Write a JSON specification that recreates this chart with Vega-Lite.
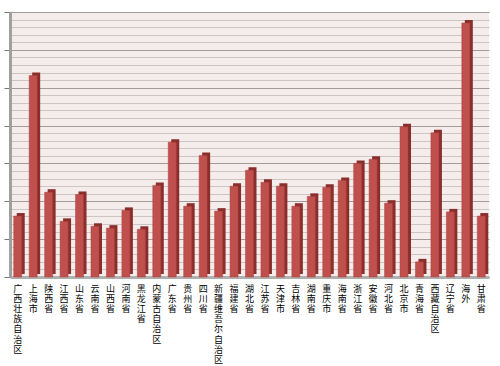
{
  "$schema": "https://vega.github.io/schema/vega-lite/v6.json",
  "autosize": "none",
  "width": 479,
  "height": 265,
  "padding": {"left": 10, "top": 12, "right": 11, "bottom": 89},
  "background": "#ffffff",
  "config": {
    "font": "Noto Sans CJK SC",
    "view": {"fill": "#f5ecec", "stroke": null}
  },
  "data": {
    "values": [
      {"name": "广西壮族自治区", "value": 16.1},
      {"name": "上海市", "value": 53.2},
      {"name": "陕西省", "value": 22.4},
      {"name": "江西省", "value": 14.7},
      {"name": "山东省", "value": 21.8},
      {"name": "云南省", "value": 13.4},
      {"name": "山西省", "value": 12.9},
      {"name": "河南省", "value": 17.6},
      {"name": "黑龙江省", "value": 12.6},
      {"name": "内蒙古自治区", "value": 24.2},
      {"name": "广东省", "value": 35.6},
      {"name": "贵州省", "value": 18.7},
      {"name": "四川省", "value": 32.1},
      {"name": "新疆维吾尔自治区", "value": 17.4},
      {"name": "福建省", "value": 24.0},
      {"name": "湖北省", "value": 28.2},
      {"name": "江苏省", "value": 25.0},
      {"name": "天津市", "value": 24.0},
      {"name": "吉林省", "value": 18.7},
      {"name": "湖南省", "value": 21.3},
      {"name": "重庆市", "value": 23.7},
      {"name": "海南省", "value": 25.5},
      {"name": "浙江省", "value": 30.0},
      {"name": "安徽省", "value": 31.1},
      {"name": "河北省", "value": 19.5},
      {"name": "北京市", "value": 39.7},
      {"name": "青海省", "value": 4.0},
      {"name": "西藏自治区", "value": 38.1},
      {"name": "辽宁省", "value": 17.2},
      {"name": "海外", "value": 67.1},
      {"name": "甘肃省", "value": 16.1}
    ]
  },
  "encoding": {
    "x": {
      "field": "name",
      "type": "nominal",
      "sort": null,
      "scale": {"paddingInner": 0.29, "paddingOuter": 0.145},
      "axis": {
        "title": null,
        "labelAngle": 0,
        "labelExpr": "split(datum.label, '')",
        "labelFontSize": 9,
        "labelLineHeight": 10.2,
        "labelBaseline": "top",
        "labelColor": "#000000",
        "labelPadding": 7,
        "ticks": false,
        "domainColor": "#b0b0b0",
        "domainWidth": 3,
        "labelOverlap": false,
        "labelLimit": 0
      }
    },
    "y": {
      "field": "value",
      "type": "quantitative",
      "scale": {"domain": [0, 70], "nice": false},
      "axis": {
        "title": null,
        "labels": false,
        "values": [0,2,4,6,8,10,12,14,16,18,20,22,24,26,28,30,32,34,36,38,40,42,44,46,48,50,52,54,56,58,60,62,64,66,68,70],
        "grid": true,
        "gridColor": {"condition": {"test": "datum.value % 10 === 0", "value": "#a39a9a"}, "value": "#cfc4c4"},
        "gridWidth": 1,
        "tickColor": {"condition": {"test": "datum.value % 10 === 0", "value": "#777777"}, "value": "transparent"},
        "tickSize": 6,
        "domainColor": "#a0a0a0",
        "domainWidth": 3
      }
    }
  },
  "layer": [
    {
      "mark": {"type": "bar", "color": "#8a2e2c", "width": 8, "xOffset": 3, "yOffset": -3}
    },
    {
      "mark": {"type": "bar", "color": "#c0504d", "width": 8, "stroke": "#a8403d", "strokeWidth": 0.5}
    }
  ]
}
